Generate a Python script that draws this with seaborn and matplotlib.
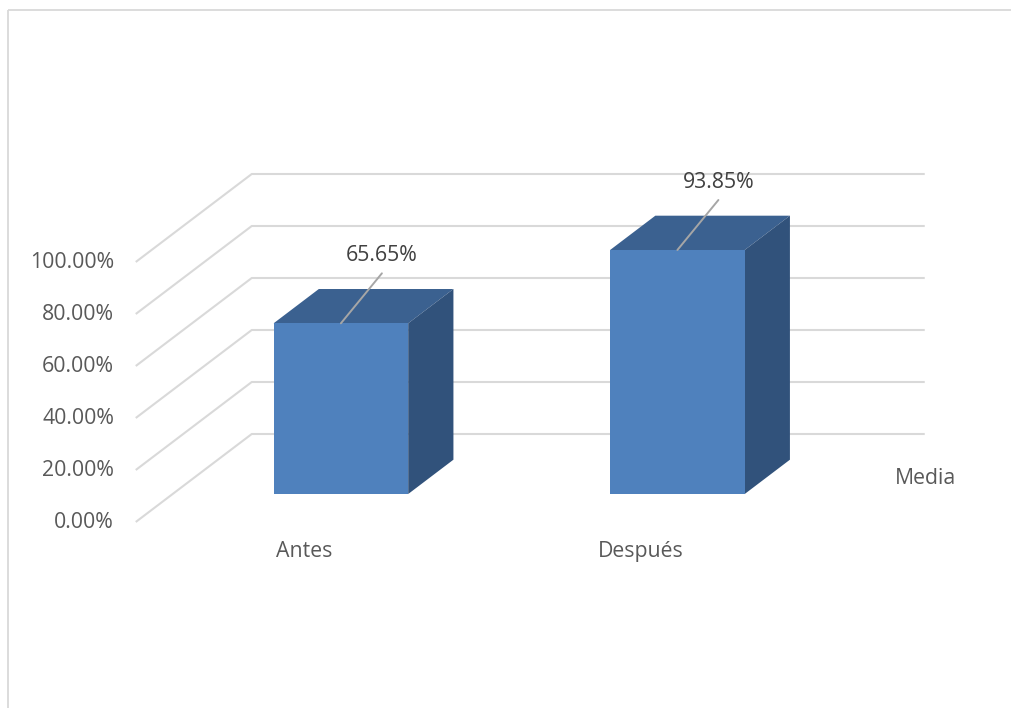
import matplotlib
matplotlib.use("Agg")
import matplotlib.pyplot as plt
from matplotlib.patches import Polygon
from matplotlib.lines import Line2D
import seaborn as sns

# data
categories = ["Antes", "Después"]
values = [65.65, 93.85]
value_labels = ["65.65%", "93.85%"]
tick_values = [0, 20, 40, 60, 80, 100]
tick_labels = ["0.00%", "20.00%", "40.00%", "60.00%", "80.00%", "100.00%"]
series_name = "Media"

# colours
FRONT = "#4F81BD"
TOP = "#3B6190"
SIDE = "#31527B"
GRID = "#D9D9D9"
TICK_TXT = "#595959"
LABEL_TXT = "#404040"
LEADER = "#A6A6A6"
FS = 15.3

sns.set_theme(style="white")
plt.rcParams["font.family"] = ["Open Sans", "DejaVu Sans"]

W, H, DPI = 1012, 708, 100
fig = plt.figure(figsize=(W / DPI, H / DPI), dpi=DPI)
ax = fig.add_axes([0, 0, 1, 1])

# pixel scale of the front plane: one category step and one percent
PX_X, PX_Y = 336.5, 2.6
X0_PX, Y0_PX = 304.0, 522.0          # category 0 / value 0 on the front plane

# oblique depth: full depth of the floor, in data units
DEPTH_X, DEPTH_Y = 116 / PX_X, 88 / PX_Y
BAR_T, BAR_D = 0.318, 0.39           # bar front position and bar depth (fractions of full depth)
fdx, fdy = BAR_T * DEPTH_X, BAR_T * DEPTH_Y
bdx, bdy = BAR_D * DEPTH_X, BAR_D * DEPTH_Y

# front faces of the bars
sns.barplot(x=categories, y=values, ax=ax, width=0.4, color=FRONT,
            saturation=1, linewidth=0, zorder=4)

bars = list(ax.patches)
for p in bars:
    p.set_x(p.get_x() + fdx)
    p.set_y(fdy)

# top and side faces
for p in bars:
    xl, xr = p.get_x(), p.get_x() + p.get_width()
    yb, yt = p.get_y(), p.get_y() + p.get_height()
    top = Polygon([(xl, yt), (xr, yt), (xr + bdx, yt + bdy), (xl + bdx, yt + bdy)],
                  closed=True, facecolor=TOP, edgecolor="none", zorder=3)
    side = Polygon([(xr, yb), (xr, yt), (xr + bdx, yt + bdy), (xr + bdx, yb + bdy)],
                   closed=True, facecolor=SIDE, edgecolor="none", zorder=3)
    ax.add_patch(top)
    ax.add_patch(side)

# gridlines: slanted side wall plus horizontal back wall
n = len(categories)
left = -0.5
right = n - 0.5
for v, t in zip(tick_values, tick_labels):
    ax.plot([left, left + DEPTH_X, right + DEPTH_X],
            [v, v + DEPTH_Y, v + DEPTH_Y],
            color=GRID, lw=1.5, zorder=1, solid_capstyle="butt")
    ax.text(left - 0.065, v, t, ha="right", va="center", fontsize=FS, color=TICK_TXT)

# category labels
for i, c in enumerate(categories):
    ax.text(i, -11.2, c, ha="center", va="center", fontsize=FS, color=TICK_TXT)

# series (depth axis) label
ax.text(right + DEPTH_X / 2 + 0.084, DEPTH_Y / 2, series_name,
        ha="left", va="center", fontsize=FS, color=TICK_TXT)

# data labels with leader lines
for p, lab in zip(bars, value_labels):
    cx = p.get_x() + p.get_width() / 2
    ty = p.get_y() + p.get_height()
    ax.plot([cx, cx + 41 / PX_X], [ty, ty + 50 / PX_Y],
            color=LEADER, lw=1.4, zorder=5)
    ax.text(cx + 41 / PX_X, ty + 68 / PX_Y, lab, ha="center", va="center",
            fontsize=FS, color=LABEL_TXT, zorder=6)

ax.set_xlim(-X0_PX / PX_X, (W - X0_PX) / PX_X)
ax.set_ylim((Y0_PX - H) / PX_Y, Y0_PX / PX_Y)
ax.set_axis_off()

# chart-area border
fig.add_artist(Line2D([8 / W, 1.01], [1 - 10 / H, 1 - 10 / H], color=GRID, lw=1.3,
                      solid_capstyle="butt", transform=fig.transFigure))
fig.add_artist(Line2D([8 / W, 8 / W], [-0.01, 1 - 10 / H], color=GRID, lw=1.3,
                      solid_capstyle="butt", transform=fig.transFigure))

fig.savefig("out.png", dpi=DPI, facecolor="white")
